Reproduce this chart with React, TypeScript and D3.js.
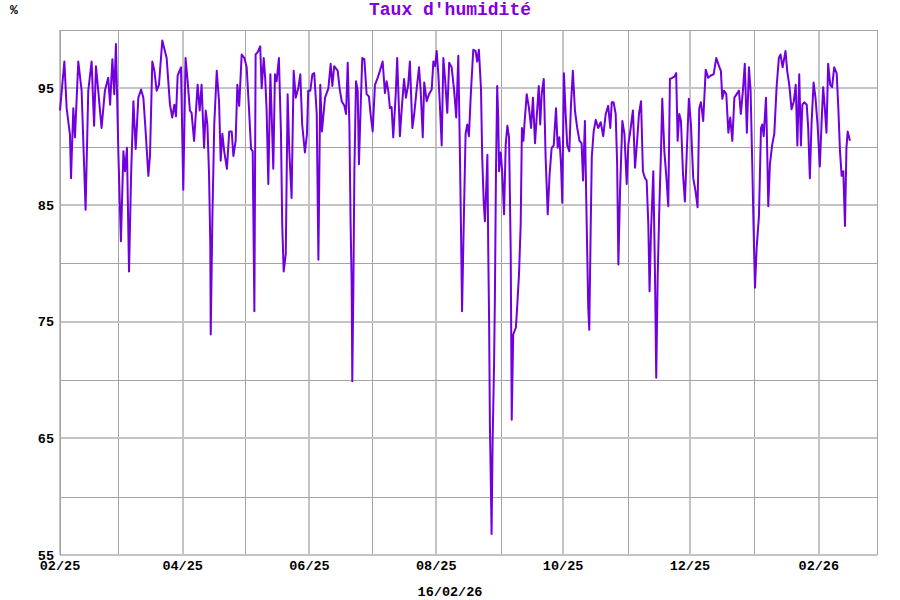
import React, { useEffect } from 'react';
import * as d3 from 'd3';

const width = 900;
const height = 600;
const plot = { left: 60, top: 30, right: 877, bottom: 555 };

const DAY = 86400000;
const startDate = new Date(Date.UTC(2025, 1, 1));
const endDate = new Date(Date.UTC(2026, 2, 1));

const title = "Taux d'humidité";
const unitLabel = '%';
const dateLabel = '16/02/26';

const yGrid = [55, 60, 65, 70, 75, 80, 85, 90, 95];
const yLabels = [55, 65, 75, 85, 95];

// [days since 01/02/25, humidity %]
const readings: [number, number][] = [
  [0, 93.1], [2.1, 97.3], [3.2, 93.3], [4.8, 91.0], [5.3, 87.3], [6.4, 93.3], [7.2, 90.8], [8.8, 97.3], [10.4, 94.8],
  [12.3, 84.6], [13.6, 94.8], [15.2, 97.3], [16.4, 91.8], [17.3, 96.9], [18.4, 94.8], [20.0, 91.6], [21.6, 94.8],
  [23.2, 95.9], [24.1, 93.6], [25.2, 97.5], [26.1, 94.5], [26.9, 98.8], [28.1, 89.3], [29.3, 81.9], [30.5, 89.6],
  [31.3, 87.9], [32.2, 89.9], [33.2, 79.3], [34.2, 87.6], [35.3, 93.9], [36.4, 89.8], [37.7, 94.2], [39.0, 94.9],
  [40.1, 94.2], [41.2, 91.3], [42.5, 87.5], [43.3, 89.3], [44.4, 97.3], [45.4, 96.5], [46.5, 94.8], [47.6, 95.3],
  [49.2, 99.1], [51.3, 97.6], [52.9, 93.6], [54.0, 92.5], [55.0, 93.6], [55.8, 92.6], [56.6, 96.1], [58.2, 96.8],
  [59.3, 86.3], [60.4, 97.6], [61.4, 95.6], [62.5, 93.1], [63.3, 92.9], [64.5, 90.5], [66.2, 95.3],
  [67.2, 93.1], [68.1, 95.3], [69.3, 89.9], [70.1, 93.1], [70.9, 91.9], [71.7, 87.6], [72.3, 81.6], [72.5, 73.9],
  [73.3, 83.9], [74.2, 91.9], [75.4, 96.5], [76.5, 93.9], [77.3, 88.8], [78.1, 91.1], [79.0, 89.6], [80.3, 88.1],
  [81.4, 91.3], [82.6, 91.3], [83.4, 89.2], [84.5, 90.5], [85.3, 95.3], [86.2, 93.5], [87.4, 97.9], [88.7, 97.6],
  [89.8, 96.8], [90.9, 93.3], [91.9, 89.8], [92.7, 89.6], [93.5, 75.9], [94.1, 97.9], [95.1, 98.1], [96.3, 98.6],
  [97.0, 95.0], [98.0, 97.6], [98.7, 95.9], [99.4, 93.1], [100.2, 86.8], [101.2, 96.2], [101.8, 92.8], [102.6, 88.1],
  [103.4, 96.2], [104.2, 95.6], [105.3, 97.6], [106.3, 91.1], [106.9, 83.3], [107.6, 79.3], [108.6, 80.8],
  [109.5, 94.5], [110.3, 89.6], [111.4, 85.6], [112.4, 96.5], [113.4, 94.2], [114.6, 95.0], [115.6, 96.2],
  [116.5, 91.9], [117.8, 89.5], [118.8, 91.1], [119.4, 94.8], [120.4, 94.8], [121.4, 96.2], [122.3, 96.3],
  [123.5, 92.8], [124.3, 80.3], [125.2, 95.3], [126.0, 91.3], [127.5, 94.2], [129.1, 95.0], [130.2, 97.1],
  [131.0, 95.2], [131.9, 96.9],
  [133.6, 96.5], [134.5, 95.0], [135.5, 93.9], [136.8, 93.5], [137.6, 92.8], [138.4, 97.2], [139.2, 91.9],
  [139.8, 83.3], [140.3, 78.2], [140.6, 69.9], [141.1, 77.6], [141.6, 87.9], [142.4, 95.6], [143.2, 94.8],
  [143.8, 88.5], [144.6, 93.3], [145.4, 97.6], [146.4, 97.5], [147.5, 94.5], [148.6, 94.3], [149.4, 92.8],
  [150.4, 91.3], [151.5, 95.3], [152.8, 95.9], [153.9, 96.5], [155.2, 97.3], [156.3, 94.6], [157.1, 95.6],
  [157.9, 94.8], [158.7, 93.3], [159.5, 93.4], [160.3, 90.8], [161.5, 94.5], [162.2, 97.6], [163.5, 90.9],
  [164.4, 93.3], [165.5, 95.8], [166.4, 94.2], [167.5, 95.3], [168.3, 97.3], [169.5, 91.6], [170.4, 92.8],
  [171.6, 95.0], [172.7, 96.8], [173.5, 94.8], [174.5, 90.8], [175.2, 95.5], [176.4, 93.9], [177.5, 94.5],
  [178.8, 94.9], [179.6, 97.3], [180.4, 96.9], [181.2, 98.2], [182.0, 96.2], [182.8, 93.3], [183.6, 90.1],
  [184.4, 97.6], [185.2, 95.9], [186.3, 92.9], [187.2, 97.2], [188.4, 96.8], [189.6, 94.8], [190.6, 92.5],
  [191.6, 97.8], [192.4, 89.1], [192.9, 82.8], [193.4, 75.9], [194.2, 83.3], [195.1, 91.1], [195.9, 91.9],
  [196.7, 90.9], [197.7, 94.8], [198.8, 98.3], [199.9, 98.2], [200.7, 97.3], [201.5, 98.3],
  [202.5, 95.0], [203.1, 89.1], [203.8, 85.3], [204.4, 83.6], [205.1, 86.8], [205.6, 89.3], [206.0, 81.1],
  [206.4, 75.3], [206.8, 66.2], [207.3, 60.5], [207.6, 56.8], [208.1, 64.8], [208.8, 71.3], [209.2, 77.1],
  [209.7, 87.6], [210.3, 95.2], [210.8, 92.5], [211.2, 87.9], [212.0, 89.5], [212.7, 87.9], [213.6, 84.2],
  [214.4, 90.2], [215.2, 91.8], [216.0, 90.8], [216.8, 81.1], [217.3, 66.6], [218.0, 73.9], [219.3, 74.5],
  [220.0, 76.5], [220.8, 79.1], [221.6, 83.3], [222.2, 91.6], [222.9, 90.5], [223.4, 91.9], [224.5, 94.5],
  [225.6, 93.3], [226.6, 91.6], [227.5, 94.2], [228.5, 90.3], [229.4, 92.8], [230.3, 95.2], [231.0, 91.9],
  [231.7, 94.5], [232.7, 95.8], [233.6, 89.1], [234.6, 84.2], [235.5, 87.6], [236.5, 89.9], [237.5, 90.1],
  [238.6, 93.3], [239.4, 89.9], [240.2, 90.8], [241.0, 88.5], [241.6, 85.2], [242.4, 96.3], [243.2, 92.9],
  [244.0, 90.1], [245.0, 89.6], [245.8, 93.6], [246.7, 96.5], [247.7, 93.1], [248.8, 91.6], [249.9, 90.5],
  [250.9, 90.3], [251.6, 87.1], [252.5, 92.2], [253.3, 83.9], [254.1, 76.2], [254.6, 74.3], [255.3, 83.3],
  [255.8, 89.1], [256.7, 91.3], [257.7, 92.3], [258.9, 91.6], [260.1, 92.1], [261.3, 90.9], [262.5, 92.8],
  [263.7, 93.5], [264.7, 91.6], [265.4, 93.8], [266.3, 93.8], [267.3, 92.8], [268.0, 88.5], [268.6, 79.9],
  [269.4, 86.2], [270.5, 92.2], [271.5, 91.1], [272.6, 86.8], [273.4, 90.2], [274.3, 91.3], [275.6, 93.1],
  [276.6, 88.2], [277.5, 90.2], [278.5, 92.8], [279.5, 93.9], [280.4, 87.9], [281.4, 87.3], [282.2, 87.1],
  [283.0, 83.3], [283.6, 77.6], [284.3, 82.8], [285.4, 87.9], [286.2, 79.1], [286.8, 70.2], [287.5, 78.8],
  [288.3, 84.8], [289.1, 89.6], [289.7, 94.1], [290.7, 89.6], [291.6, 87.6], [292.6, 84.9], [293.4, 95.8],
  [294.5, 95.9], [295.5, 96.0], [296.4, 96.3], [297.1, 90.5], [297.9, 92.8], [298.7, 92.2], [299.7, 87.6],
  [300.6, 85.3], [301.4, 89.1], [302.5, 94.1], [303.5, 91.9], [304.6, 87.3], [305.7, 86.2], [306.7, 84.8],
  [307.5, 93.3], [308.3, 93.8], [309.4, 92.2], [310.6, 96.6], [311.8, 95.9], [313.1, 96.1], [314.4, 96.2],
  [315.7, 97.6], [317.0, 96.9], [317.9, 96.5], [318.6, 94.1], [319.4, 94.8], [320.5, 94.5], [321.5, 91.2],
  [322.4, 92.5], [323.4, 90.5], [324.4, 94.2], [325.5, 94.5], [326.6, 94.8], [327.5, 92.8], [328.5, 94.8],
  [329.4, 97.1], [330.4, 91.2], [331.4, 96.8], [332.2, 94.8], [333.0, 88.5], [333.6, 83.3], [334.3, 77.9],
  [335.1, 81.3], [336.2, 84.0],
  [337.2, 91.6], [337.8, 91.9], [338.5, 90.9], [339.6, 94.2], [340.0, 91.3], [340.7, 84.9], [341.5, 88.5],
  [342.6, 90.2], [343.6, 91.1], [344.7, 95.1], [345.8, 97.6], [346.6, 97.9], [347.6, 96.8], [349.0, 98.2],
  [349.8, 96.5], [350.8, 95.3], [351.9, 93.2], [353.0, 93.9], [353.9, 95.3], [354.7, 90.1], [355.6, 96.2],
  [356.4, 90.1], [357.1, 93.6], [358.0, 93.8], [359.2, 93.6], [359.9, 91.6], [360.7, 87.3], [361.5, 91.9],
  [362.5, 95.5], [363.4, 94.2], [364.4, 91.9], [365.5, 88.3], [366.3, 91.9], [367.1, 95.1], [367.9, 93.3],
  [368.7, 91.2], [369.5, 97.1], [370.5, 95.3], [371.4, 95.1], [372.4, 96.8], [373.6, 96.3], [374.4, 93.3],
  [375.2, 89.6], [376.0, 87.5], [376.8, 87.9], [377.6, 83.2], [378.3, 89.9], [378.9, 91.3], [380.0, 90.5],
];

const FONT = "'Liberation Mono', 'DejaVu Sans Mono', monospace";
const thinGrid = '#a4a4a4';
const thickGrid = '#c4c4c4';

const App: React.FC = () => {
  useEffect(() => {
    document.body.style.margin = '0';
  }, []);

  const x = d3.scaleUtc().domain([startDate, endDate]).range([plot.left, plot.right]);
  const y = d3.scaleLinear().domain([55, 100]).range([plot.bottom, plot.top]);

  const months = d3.utcMonth.range(startDate, endDate);
  const fmt = d3.utcFormat('%m/%y');

  const line = d3
    .line<[number, number]>()
    .x(d => x(new Date(startDate.getTime() + d[0] * DAY)))
    .y(d => y(d[1]));

  return (
    <svg width={width} height={height} style={{ display: 'block', background: '#fff' }}>
      {/* vertical month grid */}
      {months.map(m => {
        const px = Math.round(x(m));
        const labeled = m.getUTCMonth() % 2 === 1;
        return (
          <line
            key={m.toISOString()}
            x1={labeled ? px : px + 0.5}
            x2={labeled ? px : px + 0.5}
            y1={plot.top}
            y2={plot.bottom}
            stroke={labeled ? thickGrid : thinGrid}
            strokeWidth={labeled ? 2 : 1}
          />
        );
      })}
      {/* horizontal grid */}
      {yGrid.map(v => {
        const py = Math.round(y(v));
        const labeled = yLabels.includes(v);
        return (
          <line
            key={v}
            x1={plot.left}
            x2={plot.right}
            y1={labeled ? py : py + 0.5}
            y2={labeled ? py : py + 0.5}
            stroke={labeled ? thickGrid : thinGrid}
            strokeWidth={labeled ? 2 : 1}
          />
        );
      })}
      {/* frame */}
      <line x1={plot.left + 0.5} x2={plot.left + 0.5} y1={plot.top} y2={plot.bottom} stroke={thinGrid} />
      <line x1={plot.right + 0.5} x2={plot.right + 0.5} y1={plot.top} y2={plot.bottom} stroke={thinGrid} />
      <line x1={plot.left} x2={plot.right + 1} y1={plot.top + 0.5} y2={plot.top + 0.5} stroke={thinGrid} />

      <path d={line(readings) ?? ''} fill="none" stroke="#7000e0" strokeWidth={2} strokeLinejoin="round" />

      {/* y labels */}
      {yLabels.map(v => (
        <text
          key={v}
          x={54}
          y={y(v)}
          dy="0.35em"
          textAnchor="end"
          fontFamily={FONT}
          fontWeight="bold"
          fontSize={13.5}
          fill="#000"
        >
          {v}
        </text>
      ))}
      {/* x labels */}
      {months
        .filter(m => m.getUTCMonth() % 2 === 1)
        .map(m => (
          <text
            key={m.toISOString()}
            x={x(m)}
            y={570}
            textAnchor="middle"
            fontFamily={FONT}
            fontWeight="bold"
            fontSize={13.5}
            fill="#000"
          >
            {fmt(m)}
          </text>
        ))}
      <text x={450} y={596} textAnchor="middle" fontFamily={FONT} fontWeight="bold" fontSize={13.5} fill="#000">
        {dateLabel}
      </text>
      <text x={14} y={14} textAnchor="middle" fontFamily={FONT} fontWeight="bold" fontSize={13} fill="#000">
        {unitLabel}
      </text>
      <text x={450} y={15} textAnchor="middle" fontFamily={FONT} fontWeight="bold" fontSize={18} fill="#8000e0">
        {title}
      </text>
    </svg>
  );
};

export default App;
